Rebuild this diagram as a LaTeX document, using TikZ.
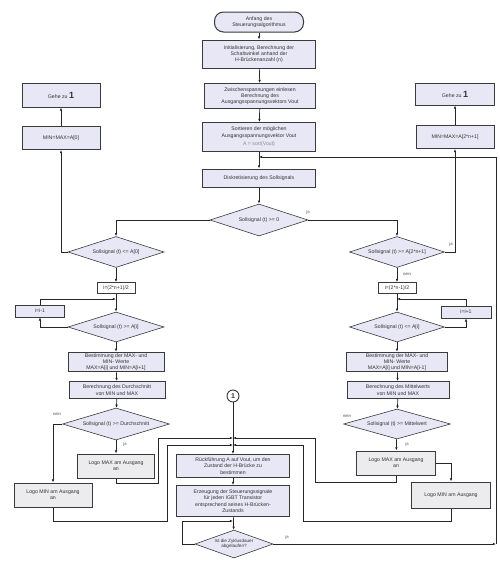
\documentclass[tikz,border=0pt]{standalone}
\usepackage{fontspec}
\setmainfont{Liberation Sans}
\usetikzlibrary{shapes.geometric,arrows.meta}
\definecolor{boxfill}{HTML}{E7E7F5}
\definecolor{grayfill}{HTML}{ECECEF}
\definecolor{edge}{HTML}{3A3A3A}
\begin{document}
\begin{tikzpicture}[x=1pt,y=-1pt,
  every node/.style={font=\fontsize{5.2}{6.3}\selectfont, text=black!80},
  box/.style={rectangle, draw=edge, line width=1pt, fill=boxfill, align=center, inner sep=1pt},
  gbox/.style={box, fill=grayfill},
  small/.style={rectangle, draw=edge, line width=0.7pt, fill=white, align=center, inner sep=0.5pt},
  dia/.style={diamond, aspect=3.1, draw=edge, line width=0.6pt, fill=boxfill, align=center, inner sep=0pt},
  lab/.style={font=\fontsize{4.2}{5}\selectfont, text=black!70},
  arr/.style={draw=black!85, line width=0.7pt, -{Latex[length=3.2pt,width=2.6pt]}},
  ln/.style={draw=black!85, line width=0.7pt}]
\useasboundingbox (0,0) rectangle (500,565);
% main column
\node[box, rounded corners=9pt, minimum width=89pt, minimum height=20pt] (start) at (259,22) {Anfang des\\Steuerungsalgorithmus};
\node[box, minimum width=113pt, minimum height=28pt] (init) at (259,54) {Initialisierung, Berechnung der\\Schaltwinkel anhand der\\H-Brückenanzahl (n)};
\node[box, minimum width=111pt, minimum height=25pt] (zwi) at (260,96) {Zwischenspannungen einlesen\\Berechnung des\\Ausgangsspannungsvektors Vout};
\node[box, minimum width=113pt, minimum height=29pt] (sort) at (259,137) {Sortieren der möglichen\\Ausgangsspannungsvektor Vout\\[2.5pt]{\color{black!45}A = sort(Vout)}};
\node[box, minimum width=113pt, minimum height=18pt] (disk) at (259,178) {Diskretisierung des Sollsignals};
\node[dia, minimum width=98pt, minimum height=32pt] (d1) at (259,220) {Sollsignal (t) >= 0};
% left branch
\node[dia, minimum width=96pt, minimum height=31pt] (dL1) at (116,252) {Sollsignal (t) <= A[0]};
\node[box, minimum width=78pt, minimum height=23pt] (minL0) at (61,138) {MIN=MAX=A[0]};
\node[box, minimum width=78pt, minimum height=24pt] (gotoL) at (61,95) {Gehe zu {\fontsize{9}{9}\selectfont\bfseries 1}};
\node[small, minimum width=38pt, minimum height=11pt] (iL) at (116,288) {i=(2*n+1)/2};
\node[box, line width=0.8pt, minimum width=49pt, minimum height=12pt] (decL) at (40,311) {i=i-1};
\node[dia, minimum width=96pt, minimum height=30pt] (dL2) at (116,327) {Sollsignal (t) >= A[i]};
\node[box, minimum width=96pt, minimum height=19pt] (bestL) at (116,362) {Bestimmung der MAX- und\\MIN- Werte\\MAX=A[i] und MIN=A[i+1]};
\node[box, minimum width=96pt, minimum height=17pt] (berL) at (117,390) {Berechnung des Durchschnitt\\von MIN und MAX};
\node[dia, minimum width=107pt, minimum height=32pt] (dL3) at (116,424) {Sollsignal (t) >= Durchschnitt};
\node[gbox, minimum width=77pt, minimum height=24pt] (maxL) at (116,466) {Logo MAX am Ausgang\\an};
\node[gbox, minimum width=78pt, minimum height=24pt] (minL) at (53,495) {Logo MIN am Ausgang\\an};
% right branch
\node[dia, minimum width=95pt, minimum height=31pt] (dR1) at (397,252) {Sollsignal (t) >= A[2*n+1]};
\node[box, minimum width=78pt, minimum height=23pt] (minR0) at (455,137) {MIN=MAX=A[2*n+1]};
\node[box, minimum width=79pt, minimum height=22pt] (gotoR) at (455,94) {Gehe zu {\fontsize{9}{9}\selectfont\bfseries 1}};
\node[small, minimum width=38pt, minimum height=11pt] (iR) at (397,288) {i=(2*n-1)/2};
\node[box, line width=0.8pt, minimum width=50pt, minimum height=12pt] (incR) at (466,312) {i=i+1};
\node[dia, minimum width=95pt, minimum height=30pt] (dR2) at (397,327) {Sollsignal (t) <= A[i]};
\node[box, minimum width=101pt, minimum height=19pt] (bestR) at (397,362) {Bestimmung der MAX- und\\MIN- Werte\\MAX=A[i] und MIN=A[i-1]};
\node[box, minimum width=102pt, minimum height=17pt] (berR) at (398,390) {Berechnung des Mittelwerts\\von MIN und MAX};
\node[dia, minimum width=107pt, minimum height=30pt] (dR3) at (397,424) {Sollsignal (t) >= Mittelwert};
\node[gbox, minimum width=79pt, minimum height=24pt] (maxR) at (396,463) {Logo MAX am Ausgang\\an};
\node[gbox, minimum width=79pt, minimum height=26pt] (minR) at (451,495) {Logo MIN am Ausgang};
% bottom column
\node[circle, draw=edge, line width=0.9pt, fill=white, minimum size=12pt, inner sep=0pt, font=\fontsize{7}{7}\selectfont\bfseries] (conn) at (233,396) {1};
\node[box, minimum width=113pt, minimum height=23pt] (rueck) at (233,466) {Rückführung A auf Vout, um den\\Zustand der H-Brücke zu\\bestimmen};
\node[box, minimum width=113pt, minimum height=31pt] (erz) at (233,501) {Erzeugung der Steuerungssignale\\für jeden IGBT Transistor\\entsprechend seines H-Brücken-\\Zustands};
\node[dia, aspect=2.8, minimum width=78pt, minimum height=28pt, font=\fontsize{4.6}{5.4}\selectfont] (zyk) at (234,544) {Ist die Zyklusdauer\\abgelaufen?};
% coordinates
\coordinate (j0) at (259,157);
\coordinate (jL) at (116,299);
\coordinate (jR) at (397,299);
\coordinate (m1) at (233,438);
\coordinate (m2) at (233,445);
\coordinate (m3) at (233,521);
\coordinate (cR) at (496,544);
% labels
\node[lab] (l1) at (308,212) {ja};
\node[lab] (l2) at (451,244) {ja};
\node[lab] (l3) at (407,274) {nein};
\node[lab] (l4) at (57,414) {nein};
\node[lab] (l5) at (125,444) {ja};
\node[lab] (l6) at (347,416) {nein};
\node[lab] (l7) at (407,444) {ja};
\node[lab] (l8) at (287,537) {ja};
% connectors main
\draw[arr] (start) -- (init);
\draw[arr] (init) -- (zwi);
\draw[arr] (zwi) -- (sort);
\draw[arr] (sort) -- (disk);
\draw[arr] (disk) -- (d1);
\draw[arr] (d1.east) -| (dR1.north);
\draw[arr] (d1.west) -| (dL1.north);
% left
\draw[arr] (dL1.west) -| (minL0.south);
\draw[arr] (minL0) -- (gotoL);
\draw[arr] (dL1) -- (iL);
\draw[arr] (iL) -- (dL2);
\draw[arr] (dL2.west) -| (decL.south);
\draw[arr] (decL.north) |- (jL);
\draw[arr] (dL2) -- (bestL);
\draw[arr] (bestL) -- (berL);
\draw[arr] (berL) -- (dL3);
\draw[arr] (dL3.west) -| (minL.north);
\draw[arr] (dL3) -- (maxL);
% right
\draw[arr] (dR1.east) -| (minR0.south);
\draw[arr] (minR0) -- (gotoR);
\draw[arr] (dR1) -- (iR);
\draw[arr] (iR) -- (dR2);
\draw[arr] (dR2.east) -| (incR.south);
\draw[arr] (incR.north) |- (jR);
\draw[arr] (dR2) -- (bestR);
\draw[arr] (bestR) -- (berR);
\draw[arr] (berR) -- (dR3);
\draw[arr] (dR3) -- (maxR);
\draw[arr] (maxR.east) -| (minR.north);
% returns to bottom column
\draw[arr] (maxL.south) |- (158,483) |- (m1);
\draw[arr] (minL.south) |- (167,521) |- (m2);
\draw[arr] (maxR.south) |- (315,482) |- (m1);
\draw[arr] (minR.south) |- (303,521) |- (m2);
\draw[arr] (conn) -- (rueck);
\draw[arr] (rueck) -- (erz);
\draw[arr] (erz) -- (zyk);
\draw[arr] (zyk.west) -| (182,521) -- (m3);
\draw[arr] (zyk.east) -- (cR);
\draw[arr] (cR) |- (j0);
\end{tikzpicture}
\end{document}
